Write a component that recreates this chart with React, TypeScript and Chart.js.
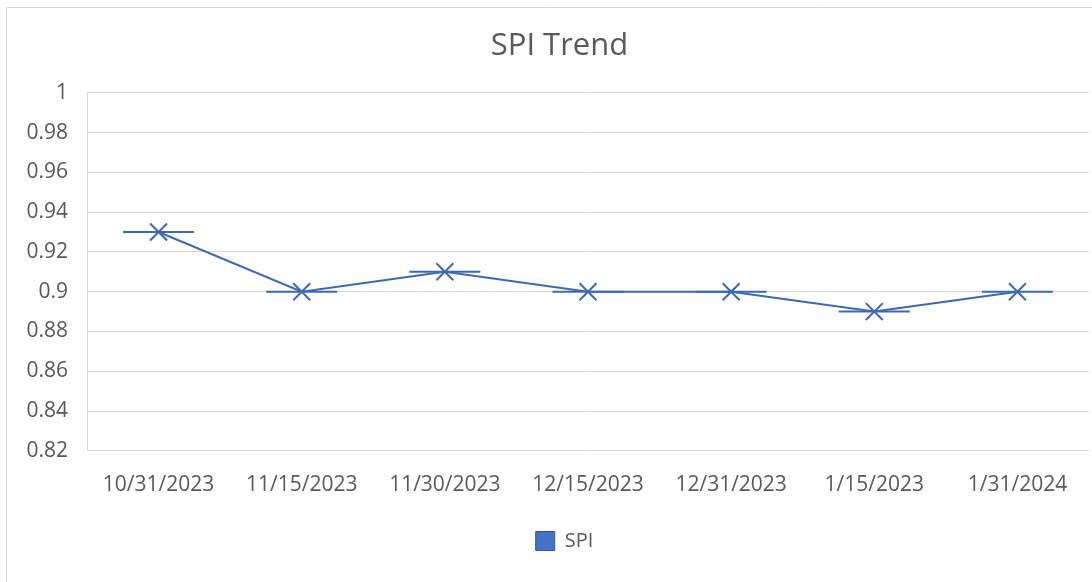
import React, { useEffect, useRef } from "react";
import { Chart, registerables } from "chart.js";

Chart.register(...registerables);

const categories = ["10/31/2023", "11/15/2023", "11/30/2023", "12/15/2023", "12/31/2023", "1/15/2023", "1/31/2024"];
const spiValues = [0.93, 0.9, 0.91, 0.9, 0.9, 0.89, 0.9];
const yMin = 0.82;
const yMax = 1;
const yStep = 0.02;

const FONT = "'Open Sans', 'Noto Sans', sans-serif";
const TEXT = "#595959";
const GRID = "#d9d9d9";
const LINE = "#3F68B0";

const frame = {
  id: "frame",
  beforeDraw(chart: any) {
    const ctx = chart.ctx;
    ctx.save();
    ctx.fillStyle = "#ffffff";
    ctx.fillRect(0, 0, chart.width, chart.height);
    ctx.strokeStyle = GRID;
    ctx.lineWidth = 1;
    ctx.beginPath();
    ctx.moveTo(6.5, chart.height + 2);
    ctx.lineTo(6.5, 7.5);
    ctx.lineTo(chart.width + 2, 7.5);
    ctx.stroke();
    ctx.restore();
  },
};

// The original chart is wider than the visible crop, so its title and legend are centred a bit to the right.
const shiftBlocks = {
  id: "shiftBlocks",
  afterLayout(chart: any) {
    if (chart.titleBlock) {
      chart.titleBlock.left += 15;
      chart.titleBlock.right += 15;
    }
    if (chart.legend) {
      chart.legend.left += 20;
      chart.legend.right += 20;
    }
  },
};

export default function App() {
  const ref = useRef<HTMLCanvasElement | null>(null);
  useEffect(() => {
    if (!ref.current) return;
    const chart = new Chart(ref.current, {
      type: "line",
      data: {
        labels: categories,
        datasets: [
          {
            label: "SPI",
            data: spiValues,
            borderColor: LINE,
            backgroundColor: "#4472C4",
            borderWidth: 2,
            tension: 0,
            pointStyle: "crossRot",
            pointRadius: 12,
            pointBorderWidth: 2,
            pointBorderColor: LINE,
            pointBackgroundColor: LINE,
            clip: false,
          },
          {
            label: "SPI-dash",
            data: spiValues,
            showLine: false,
            borderColor: LINE,
            backgroundColor: LINE,
            pointStyle: "line",
            pointRadius: 35.5,
            pointBorderWidth: 2,
            pointBorderColor: LINE,
            clip: false,
          },
        ],
      },
      options: {
        responsive: false,
        animation: false,
        events: [],
        layout: { autoPadding: false, padding: { left: 0, right: 3, top: 0, bottom: 21 } },
        plugins: {
          title: {
            display: true,
            text: "SPI Trend",
            color: TEXT,
            font: { family: FONT, size: 31, weight: "normal" },
            padding: { top: 28, bottom: 27.6 },
          },
          legend: {
            position: "bottom",
            labels: {
              color: TEXT,
              font: { family: FONT, size: 20 },
              boxWidth: 19,
              boxHeight: 19,
              padding: 10,
              generateLabels: () => [
                {
                  text: "SPI",
                  fillStyle: "#4472C4",
                  strokeStyle: "#2F5597",
                  lineWidth: 1,
                  fontColor: TEXT,
                  datasetIndex: 0,
                  hidden: false,
                },
              ],
            },
          },
          tooltip: { enabled: false },
        },
        scales: {
          x: {
            offset: true,
            grid: { display: false, drawTicks: false },
            border: { display: false },
            ticks: {
              color: TEXT,
              font: { family: FONT, size: 21 },
              padding: 22,
              maxRotation: 0,
              autoSkip: false,
            },
            afterFit: (s: any) => {
              s.height += 1;
              s.paddingLeft = 0;
              s.paddingRight = 0;
            },
          },
          y: {
            min: yMin,
            max: yMax,
            grid: { color: GRID, lineWidth: 1, drawTicks: false },
            border: { display: true, color: GRID, width: 1 },
            ticks: {
              stepSize: yStep,
              color: TEXT,
              font: { family: FONT, size: 21 },
              padding: 19,
              callback: (v: any) => String(Number(Number(v).toFixed(2))),
            },
            afterFit: (s: any) => {
              s.width = 87;
            },
          },
        },
      },
      plugins: [frame, shiftBlocks],
    });
    return () => chart.destroy();
  }, []);
  return (
    <div style={{ position: "fixed", left: 0, top: 0, width: 1092, height: 582 }}>
      <canvas ref={ref} width={1092} height={582} />
    </div>
  );
}
